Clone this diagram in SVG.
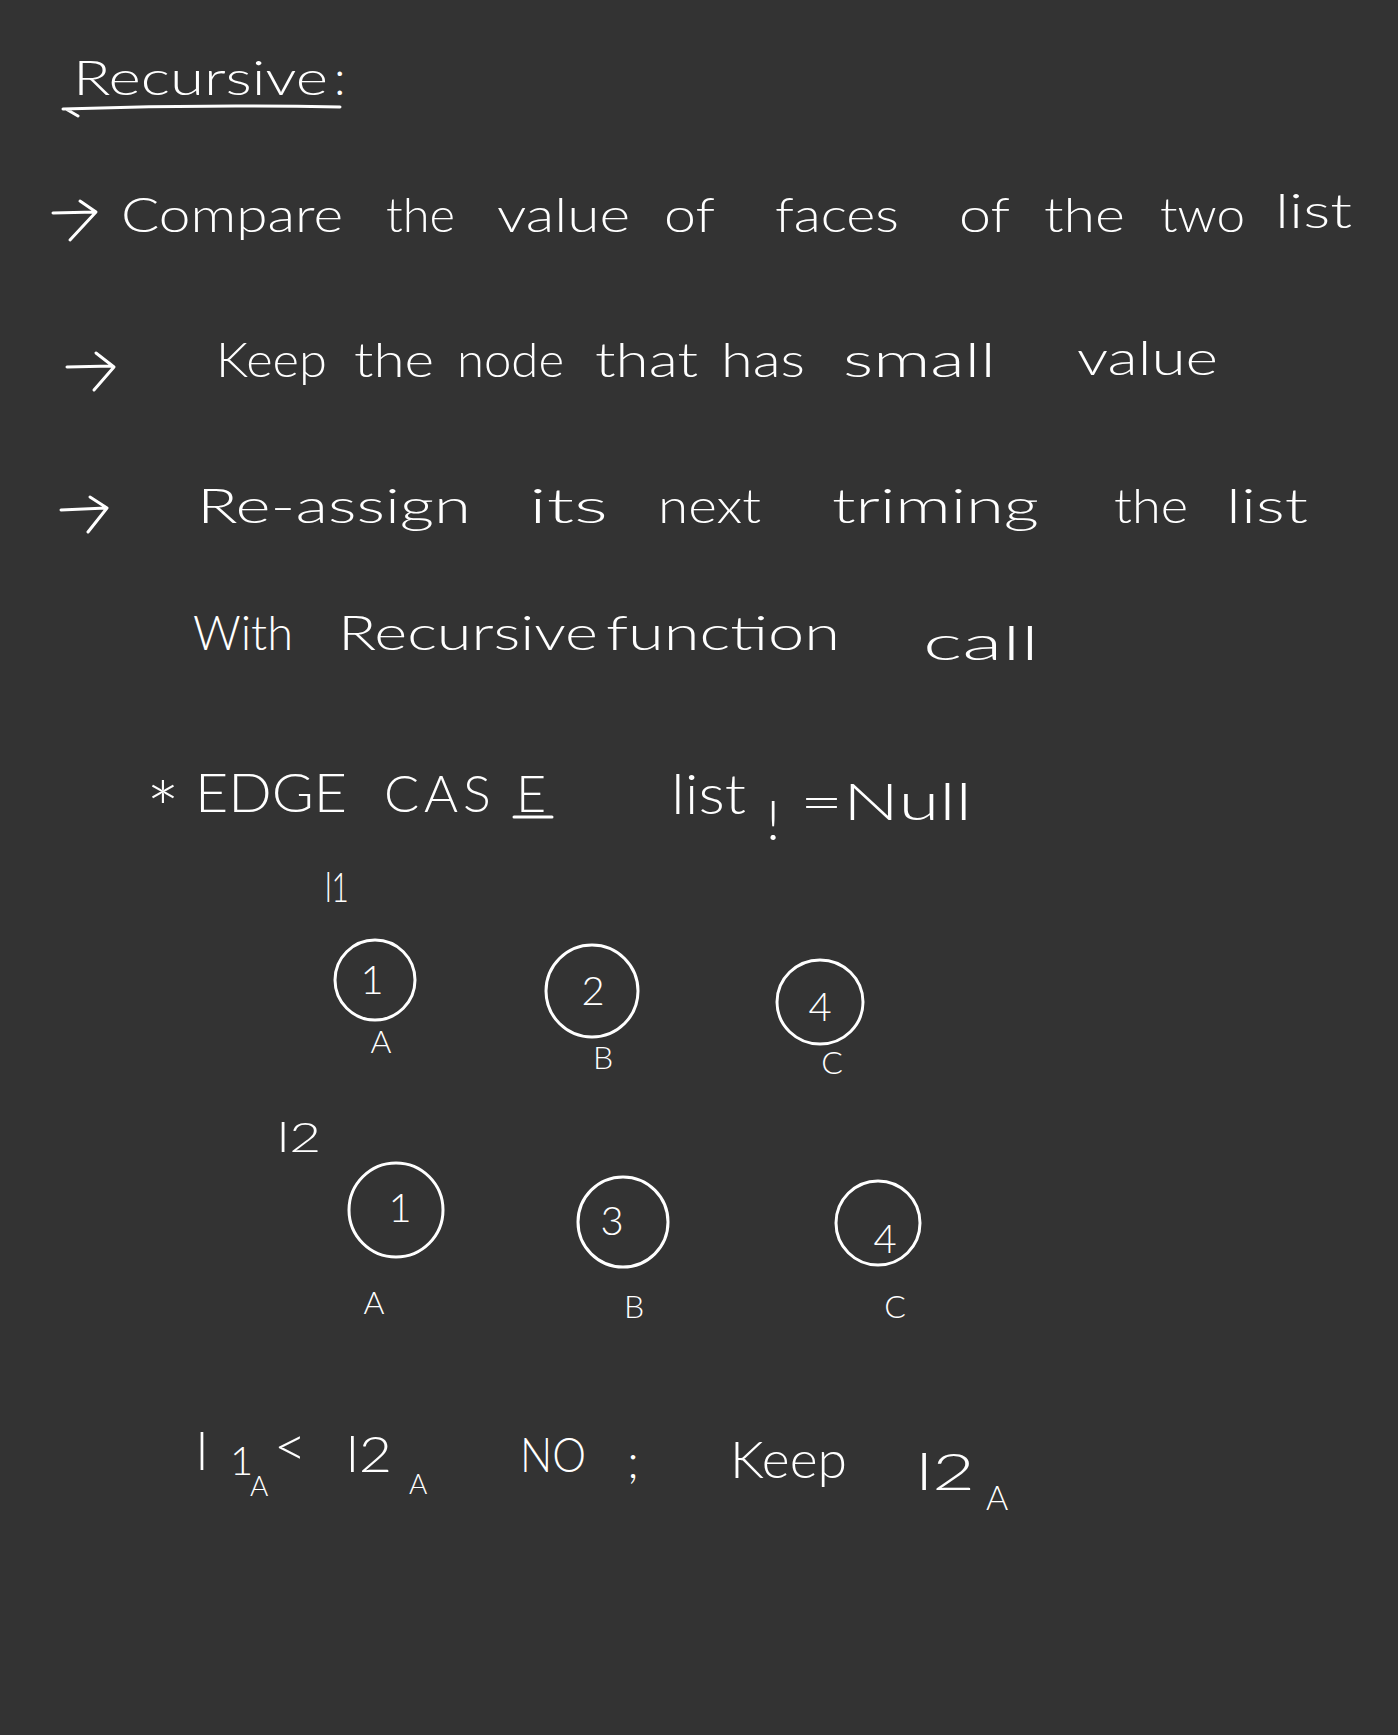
<svg xmlns="http://www.w3.org/2000/svg" width="1398" height="1735" viewBox="0 0 1398 1735">
<defs>
<style>
text{fill:#ffffff;font-family:"Lato","Liberation Sans",Arial,sans-serif;font-weight:300;}
.t{font-size:48px;}
.lbl{font-size:32px;text-anchor:middle;}
.num{font-size:40px;text-anchor:middle;}
.nd{fill:none;stroke:#ffffff;stroke-width:3;}
.pen{fill:none;stroke:#ffffff;stroke-width:3;stroke-linecap:round;stroke-linejoin:round;}
</style>
</defs>
<rect x="0" y="0" width="1398" height="1735" fill="#333333"/>

<g id="title">
<text class="t" x="73" y="95" font-size="50" textLength="255" lengthAdjust="spacingAndGlyphs">Recursive</text>
<text class="t" x="334" y="95" font-size="44">:</text>
<path class="pen" d="M63 109 Q200 104 340 107 M66 109 L78 116"/>
</g>

<g id="bullets">
<path class="pen" d="M53 213 L95 212 M80 201 L96 212 L70 240"/>
<path class="pen" d="M67 367 L112 366 M96 353 L114 367 L94 390"/>
<path class="pen" d="M61 510 L106 508 M90 497 L107 508 L88 532"/>
</g>

<g id="line1">
<text class="t" x="121" y="232" textLength="222" lengthAdjust="spacingAndGlyphs">Compare</text>
<text class="t" x="386" y="232" textLength="69" lengthAdjust="spacingAndGlyphs">the</text>
<text class="t" x="497" y="232" textLength="133" lengthAdjust="spacingAndGlyphs">value</text>
<text class="t" x="664" y="232" textLength="51" lengthAdjust="spacingAndGlyphs">of</text>
<text class="t" x="775" y="232" textLength="124" lengthAdjust="spacingAndGlyphs">faces</text>
<text class="t" x="959" y="232" textLength="51" lengthAdjust="spacingAndGlyphs">of</text>
<text class="t" x="1044" y="232" textLength="81" lengthAdjust="spacingAndGlyphs">the</text>
<text class="t" x="1160" y="232" textLength="85" lengthAdjust="spacingAndGlyphs">two</text>
<text class="t" x="1275" y="228" textLength="77" lengthAdjust="spacingAndGlyphs">list</text>
</g>

<g id="line2">
<text class="t" x="216" y="377" textLength="111" lengthAdjust="spacingAndGlyphs">Keep</text>
<text class="t" x="354" y="377" textLength="80" lengthAdjust="spacingAndGlyphs">the</text>
<text class="t" x="457" y="377" textLength="107" lengthAdjust="spacingAndGlyphs">node</text>
<text class="t" x="595" y="377" textLength="103" lengthAdjust="spacingAndGlyphs">that</text>
<text class="t" x="721" y="377" font-size="56" textLength="84" lengthAdjust="spacingAndGlyphs">has</text>
<text class="t" x="843" y="377" textLength="153" lengthAdjust="spacingAndGlyphs">small</text>
<text class="t" x="1077" y="375" textLength="141" lengthAdjust="spacingAndGlyphs">value</text>
</g>

<g id="line3">
<text class="t" x="197" y="523" textLength="274" lengthAdjust="spacingAndGlyphs">Re-assign</text>
<text class="t" x="529" y="523" textLength="79" lengthAdjust="spacingAndGlyphs">its</text>
<text class="t" x="658" y="523" textLength="103" lengthAdjust="spacingAndGlyphs">next</text>
<text class="t" x="832" y="523" textLength="207" lengthAdjust="spacingAndGlyphs">triming</text>
<text class="t" x="1114" y="523" textLength="74" lengthAdjust="spacingAndGlyphs">the</text>
<text class="t" x="1226" y="523" textLength="82" lengthAdjust="spacingAndGlyphs">list</text>
</g>

<g id="line4">
<text class="t" x="193" y="650" textLength="100" lengthAdjust="spacingAndGlyphs">With</text>
<text class="t" x="338" y="650" textLength="260" lengthAdjust="spacingAndGlyphs">Recursive</text>
<text class="t" x="606" y="650" textLength="234" lengthAdjust="spacingAndGlyphs">function</text>
<text class="t" x="923" y="660" textLength="116" lengthAdjust="spacingAndGlyphs">call</text>
</g>

<g id="edge-case">
<text x="146" y="838" font-size="76" textLength="34" lengthAdjust="spacingAndGlyphs">*</text>
<text x="195" y="812" font-size="54" textLength="152" lengthAdjust="spacingAndGlyphs">EDGE</text>
<text font-size="52" y="812"><tspan x="384">C</tspan><tspan x="424">A</tspan><tspan x="463">S</tspan><tspan x="516">E</tspan></text>
<path class="pen" d="M514 817 L552 817"/>
<text x="671" y="814" font-size="56" textLength="75" lengthAdjust="spacingAndGlyphs">list</text>
<text x="766" y="840" font-size="56">!</text>
<text x="800" y="820" font-size="52" textLength="172" lengthAdjust="spacingAndGlyphs">=Null</text>
</g>

<g id="list1-label">
<text x="325" y="902" font-size="42" textLength="24" lengthAdjust="spacingAndGlyphs">l1</text>
</g>

<g id="l1-A">
<ellipse class="nd" cx="375" cy="980" rx="40" ry="40"/>
<text class="num" x="372" y="994">1</text>
<text class="lbl" x="381" y="1053">A</text>
</g>
<g id="l1-B">
<ellipse class="nd" cx="592" cy="991" rx="46" ry="46"/>
<text class="num" x="593" y="1005">2</text>
<text class="lbl" x="603" y="1069">B</text>
</g>
<g id="l1-C">
<ellipse class="nd" cx="820" cy="1002" rx="43" ry="42"/>
<text class="num" x="820" y="1021">4</text>
<text class="lbl" x="832" y="1074">C</text>
</g>

<g id="list2-label">
<text x="277" y="1152" font-size="42" textLength="44" lengthAdjust="spacingAndGlyphs">l2</text>
</g>

<g id="l2-A">
<ellipse class="nd" cx="396" cy="1210" rx="47" ry="47"/>
<text class="num" x="400" y="1222">1</text>
<text class="lbl" x="374" y="1314">A</text>
</g>
<g id="l2-B">
<ellipse class="nd" cx="623" cy="1222" rx="45" ry="45"/>
<text class="num" x="612" y="1235">3</text>
<text class="lbl" x="634" y="1318">B</text>
</g>
<g id="l2-C">
<ellipse class="nd" cx="878" cy="1223" rx="42" ry="42"/>
<text class="num" x="885" y="1253">4</text>
<text class="lbl" x="895" y="1318">C</text>
</g>

<g id="comparison">
<text x="196" y="1470" font-size="54">l</text>
<text x="230" y="1475" font-size="40">1</text>
<text x="250" y="1496" font-size="28">A</text>
<text x="274" y="1466" font-size="56">&lt;</text>
<text x="346" y="1472" font-size="50" textLength="46" lengthAdjust="spacingAndGlyphs">l2</text>
<text x="409" y="1494" font-size="28">A</text>
<text x="520" y="1472" font-size="48" textLength="66" lengthAdjust="spacingAndGlyphs">NO</text>
<text x="627" y="1478" font-size="48">;</text>
<text x="730" y="1478" font-size="52" textLength="117" lengthAdjust="spacingAndGlyphs">Keep</text>
<text x="916" y="1490" font-size="52" textLength="59" lengthAdjust="spacingAndGlyphs">l2</text>
<text x="986" y="1510" font-size="34">A</text>
</g>
</svg>
